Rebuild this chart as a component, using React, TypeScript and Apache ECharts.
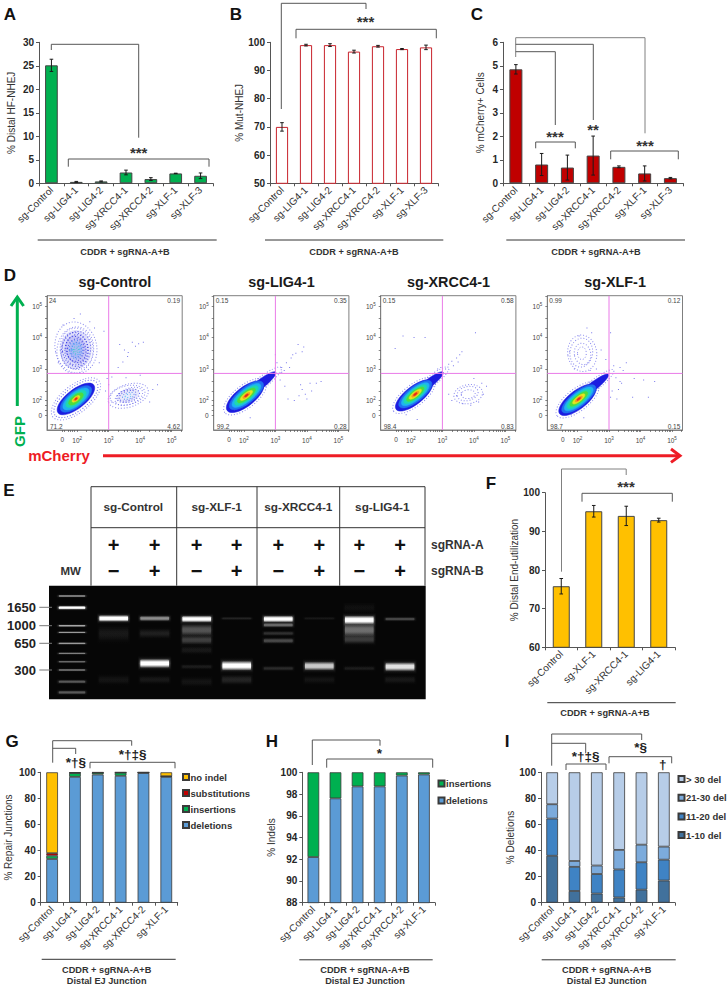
import React, { useEffect, useRef } from "react";
import * as echarts from "echarts";

const FONT = "'Liberation Sans', Arial, sans-serif";
const INK = "#262626";
const AXIS = "#555555";

// ---------- panels A, B, C, F ----------
const cats7 = ["sg-Control", "sg-LIG4-1", "sg-LIG4-2", "sg-XRCC4-1", "sg-XRCC4-2", "sg-XLF-1", "sg-XLF-3"];
const catsF = ["sg-Control", "sg-XLF-1", "sg-XRCC4-1", "sg-LIG4-1"];
const catsStack = ["sg-Control", "sg-LIG4-1", "sg-LIG4-2", "sg-XRCC4-1", "sg-XRCC4-2", "sg-XLF-1"];

const aValues = [25.1, 0.3, 0.4, 2.3, 0.9, 2.1, 1.6];
const aErrors = [1.3, 0.1, 0.1, 0.5, 0.3, 0.05, 0.6];
const bValues = [70, 99, 99, 96.7, 98.6, 97.6, 98.2];
const bErrors = [1.5, 0.3, 0.5, 0.5, 0.3, 0.2, 0.8];
const cValues = [4.85, 0.8, 0.67, 1.18, 0.7, 0.42, 0.22];
const cErrors = [0.2, 0.47, 0.53, 0.83, 0.04, 0.32, 0.03];
const fValues = [75.8, 95.2, 94, 92.9];
const fErrors = [2, 1.5, 2.5, 0.5];

// ---------- panels G, H, I ----------
const gDeletions = [33.5, 96.5, 98.3, 97.3, 99.5, 96.5];
const gInsertions = [2.5, 3, 1.4, 2.4, 0.3, 0.4];
const gSubstitutions = [2, 0.1, 0.1, 0.2, 0.1, 0.1];
const gNoIndel = [62, 0.4, 0.2, 0.1, 0.1, 3];
const hDeletions = [92.2, 97.6, 98.7, 98.7, 99.7, 99.8];
const hInsertions = [7.8, 2.4, 1.3, 1.3, 0.3, 0.2];
const iDel1to10 = [36, 9, 7, 4, 10, 17];
const iDel11to20 = [28.5, 18.5, 15, 21.5, 21, 16];
const iDel21to30 = [11, 4.5, 6.5, 15, 13.5, 10];
const iDelOver30 = [24.5, 68, 71.5, 59.5, 55.5, 57];

// ---------- panel D: density layers [x, y, rx, ry, angle, colour, kind] in decades ----------
// kind: 0 solid, 1 speckled ring, 2 translucent wash
const densityColors = ["#1c1ce0", "#1f6ff0", "#1fb4f0", "#20d8b0", "#4fdc3c", "#e6e620", "#f59a1c", "#e8261c", "#5a5ae8"];
const densityControl = [
  [1.96, 2.05, 0.93, 0.44, 38, 8, 1], [1.96, 2.05, 0.84, 0.37, 38, 0, 1], [1.96, 2.05, 0.72, 0.3, 38, 0, 0],
  [1.96, 2.05, 0.6, 0.255, 38, 1, 0], [1.96, 2.05, 0.5, 0.21, 38, 2, 0], [1.96, 2.05, 0.39, 0.165, 38, 3, 0],
  [1.96, 2.05, 0.28, 0.12, 38, 4, 0], [1.96, 2.05, 0.15, 0.065, 38, 5, 0], [1.96, 2.05, 0.09, 0.045, 38, 6, 0],
  [1.96, 2.05, 0.045, 0.025, 38, 7, 0],
  [1.96, 3.62, 0.5, 0.62, 0, 0, 2], [1.96, 3.62, 0.34, 0.46, 10, 0, 2], [1.96, 3.62, 0.2, 0.28, 0, 1, 2],
  [1.96, 3.68, 0.66, 0.82, 12, 8, 1], [1.94, 3.6, 0.58, 0.74, -8, 8, 1], [1.98, 3.64, 0.52, 0.66, 6, 8, 1],
  [1.96, 3.6, 0.46, 0.6, -14, 0, 1], [1.94, 3.62, 0.41, 0.54, 9, 0, 1], [1.97, 3.61, 0.36, 0.48, -5, 0, 1],
  [1.96, 3.62, 0.31, 0.42, 14, 0, 1], [1.95, 3.6, 0.26, 0.36, -10, 0, 1], [1.96, 3.62, 0.21, 0.3, 5, 1, 1],
  [1.97, 3.6, 0.16, 0.24, -6, 1, 1], [1.96, 3.62, 0.12, 0.18, 8, 2, 1], [1.96, 3.6, 0.08, 0.12, 0, 3, 1], [1.96, 3.6, 0.04, 0.07, 0, 3, 1],
  [3.62, 2.15, 0.36, 0.2, 18, 8, 2],
  [3.62, 2.15, 0.66, 0.36, 18, 8, 1], [3.6, 2.17, 0.56, 0.3, 12, 8, 1], [3.64, 2.13, 0.46, 0.25, 22, 8, 1],
  [3.62, 2.15, 0.37, 0.2, 16, 0, 1], [3.6, 2.15, 0.28, 0.15, 20, 0, 1], [3.62, 2.15, 0.19, 0.1, 18, 1, 1], [3.62, 2.15, 0.1, 0.05, 18, 2, 1],
];
const densityLig4 = [
  [2.04, 2.12, 0.82, 0.36, 38, 8, 1], [2.55, 2.55, 0.8, 0.18, 38, 8, 1],
  [2.04, 2.12, 0.72, 0.3, 38, 0, 0], [2.5, 2.5, 0.65, 0.14, 38, 0, 0],
  [2.08, 2.16, 0.66, 0.25, 38, 1, 0], [2.08, 2.16, 0.56, 0.2, 38, 2, 0], [2.08, 2.16, 0.46, 0.16, 38, 3, 0],
  [2.08, 2.16, 0.35, 0.12, 38, 4, 0], [2.08, 2.16, 0.24, 0.08, 38, 5, 0], [2.08, 2.16, 0.14, 0.05, 38, 6, 0], [2.08, 2.16, 0.07, 0.028, 38, 7, 0],
];
const densityXrcc4 = [
  [2.1, 2.16, 0.82, 0.34, 38, 8, 1], [2.6, 2.58, 0.76, 0.17, 38, 8, 1],
  [2.1, 2.16, 0.72, 0.28, 38, 0, 0], [2.55, 2.53, 0.6, 0.13, 38, 0, 0],
  [2.14, 2.2, 0.64, 0.24, 38, 1, 0], [2.14, 2.2, 0.54, 0.19, 38, 2, 0], [2.14, 2.2, 0.45, 0.155, 38, 3, 0],
  [2.14, 2.2, 0.34, 0.115, 38, 4, 0], [2.14, 2.2, 0.24, 0.08, 38, 5, 0], [2.14, 2.2, 0.14, 0.05, 38, 6, 0], [2.14, 2.2, 0.07, 0.028, 38, 7, 0],
  [3.82, 2.2, 0.46, 0.3, 10, 8, 1], [3.8, 2.22, 0.34, 0.22, 14, 8, 1], [3.82, 2.2, 0.22, 0.14, 6, 8, 1],
];
const densityXlf1 = [
  [2.0, 2.02, 0.82, 0.35, 38, 8, 1], [2.5, 2.46, 0.82, 0.17, 38, 8, 1],
  [2.0, 2.02, 0.72, 0.29, 38, 0, 0], [2.46, 2.42, 0.66, 0.13, 38, 0, 0],
  [2.04, 2.05, 0.66, 0.24, 38, 1, 0], [2.04, 2.05, 0.56, 0.195, 38, 2, 0], [2.04, 2.05, 0.46, 0.155, 38, 3, 0],
  [2.04, 2.05, 0.35, 0.115, 38, 4, 0], [2.04, 2.05, 0.24, 0.08, 38, 5, 0], [2.04, 2.05, 0.14, 0.05, 38, 6, 0], [2.04, 2.05, 0.07, 0.028, 38, 7, 0],
  [2.15, 3.5, 0.46, 0.58, 8, 8, 1], [2.12, 3.52, 0.36, 0.46, -8, 8, 1], [2.16, 3.48, 0.26, 0.34, 10, 8, 1], [2.14, 3.5, 0.14, 0.2, 0, 8, 1],
];
// sparse single events
const dotsControl = [
  [3.35, 3.78], [3.5, 3.6], [3.62, 3.52], [3.75, 3.85], [3.85, 3.72], [3.95, 3.8], [4.1, 3.85], [3.45, 3.22], [3.3, 3.05], [3.6, 3.4],
  [1.55, 4.4], [1.9, 4.6], [2.1, 4.75], [2.4, 4.5], [2.55, 4.3], [2.85, 4.2], [2.7, 3.2], [1.4, 3.2], [2.95, 2.7], [3.0, 2.5],
  [2.9, 2.3], [3.1, 1.95], [4.4, 2.35], [4.55, 2.5], [4.3, 1.95], [3.1, 2.75], [4.0, 2.8], [3.55, 2.72],
];
const dotsLig4 = [
  [3.2, 3.05], [3.35, 3.2], [3.5, 3.35], [3.65, 3.5], [3.85, 3.55], [3.9, 3.7], [3.72, 3.78], [3.55, 3.45], [3.05, 3.2], [3.0, 3.45],
  [3.28, 2.95], [3.45, 3.05], [3.15, 2.65], [3.3, 2.45], [3.8, 2.5], [3.85, 2.35], [3.95, 2.2], [4.0, 2.05], [4.1, 2.55], [4.3, 2.55],
  [4.45, 2.6], [3.6, 2.0], [3.75, 2.15], [4.15, 2.3], [3.2, 2.9], [3.4, 2.05], [2.2, 1.45], [1.7, 1.7],
];
const dotsXrcc4 = [
  [3.1, 3.0], [3.2, 3.15], [3.3, 3.25], [3.45, 3.35], [3.55, 3.45], [3.62, 3.55], [3.5, 3.22], [3.35, 3.1], [2.95, 3.05], [2.85, 3.0],
  [4.05, 4.15], [1.75, 4.05], [2.1, 4.0], [2.45, 4.0], [1.5, 3.65], [3.2, 2.2], [3.3, 2.0], [3.45, 2.15], [3.65, 1.9], [4.4, 2.45], [4.25, 2.55],
  [4.0, 2.7], [4.15, 1.95], [3.9, 1.85], [3.6, 2.25], [4.3, 2.2], [2.2, 1.4], [1.85, 1.55],
];
const dotsXlf1 = [
  [3.05, 4.15], [3.55, 3.2], [3.35, 3.05], [3.15, 3.1], [3.45, 2.95], [3.22, 2.72], [3.3, 2.35], [3.1, 2.3], [3.25, 2.05], [3.05, 2.1],
  [3.4, 2.55], [3.35, 2.6], [3.8, 2.7], [4.1, 2.65], [4.45, 2.6], [3.75, 2.1], [4.25, 2.1], [2.45, 4.15], [2.3, 4.3], [2.05, 4.05],
  [1.75, 3.55], [2.75, 3.6], [2.9, 3.3], [2.6, 3.0], [2.4, 2.95], [1.9, 3.0], [2.2, 1.45], [1.8, 1.55],
];
const flowTitles = ["sg-Control", "sg-LIG4-1", "sg-XRCC4-1", "sg-XLF-1"];
const flowCorners = [
  ["24", "0.19", "71.2", "4.62"],
  ["0.15", "0.35", "99.2", "0.28"],
  ["0.15", "0.58", "98.4", "0.83"],
  ["0.99", "0.12", "98.7", "0.15"],
];
const flowMajor = [1.53, 2, 3, 4, 5];
const flowGate = [[3, 2.86]];
const flowXTicks = [1.53, 1.6, 1.7, 1.78, 1.85, 1.9, 2, 2.3, 2.48, 2.6, 2.7, 2.78, 2.85, 2.9, 2.95, 3, 3.3, 3.48, 3.6, 3.7, 3.78, 3.85, 3.9, 3.95, 4, 4.3, 4.48, 4.6, 4.7, 4.78, 4.85, 4.9, 4.95, 5, 5.3];
const flowYTicks = [1.53, 1.7, 1.85, 2, 2.3, 2.6, 3, 3.3, 3.6, 4, 4.3, 4.6, 5, 5.3];

// ---------- panel E: gel bands [lane, y, half height, brightness] ----------
const gelLanes = [23, 64.7, 105.7, 147.7, 187.7, 229.3, 270.3, 310.3, 351];
const gelLadder = [
  [0, 10.3, 1.6, 0.55], [0, 22, 2.6, 1], [0, 40, 1.6, 0.65], [0, 46.7, 1.4, 0.6], [0, 57.7, 1.6, 0.6],
  [0, 67.7, 1.5, 0.5], [0, 76, 1.6, 0.42], [0, 84.3, 1.7, 0.45], [0, 96, 2.4, 0.36], [0, 106.7, 2.6, 0.36],
];
const gelSamples = [
  [1, 32.7, 4.5, 1], [1, 48, 10, 0.1], [1, 94, 6, 0.08],
  [2, 32.7, 3.5, 0.55], [2, 47.7, 6, 0.13], [2, 77.7, 6, 1], [2, 94, 5, 0.1],
  [3, 33.3, 4.5, 1], [3, 44.3, 8, 0.34], [3, 54.3, 6, 0.26], [3, 64.3, 5, 0.1], [3, 81, 3, 0.12], [3, 96, 6, 0.08],
  [4, 32.7, 2, 0.15], [4, 80, 6.5, 1], [4, 94, 6, 0.15],
  [5, 33.3, 4.5, 1], [5, 39.3, 3, 0.42], [5, 47.7, 3, 0.2], [5, 55, 3.5, 0.3], [5, 82.7, 3, 0.18],
  [6, 32.7, 2, 0.1], [6, 80.3, 6, 0.78], [6, 94, 5, 0.08],
  [7, 34.3, 6, 1], [7, 44.3, 9, 0.44], [7, 53.7, 6, 0.24], [7, 82.7, 3, 0.12], [7, 22, 6, 0.06],
  [8, 33.3, 2.5, 0.3], [8, 81, 6, 0.88], [8, 94, 5, 0.1],
];
const gelPlus = ["+", "+", "+", "+", "+", "+", "+", "+"];
const gelB = ["−", "+", "−", "+", "−", "+", "−", "+"];
const gelPlusX = [113.7, 154.7, 196.7, 236.7, 278.3, 319.3, 359.3, 400];
const gelHeads = [["sg-Control", 133.3], ["sg-XLF-1", 216.7], ["sg-XRCC4-1", 298.3], ["sg-LIG4-1", 382.3]] as const;
const gelMW = [["1650", 607.3], ["1000", 625.7], ["650", 643.3], ["300", 670]] as const;

// ---------- helpers ----------
const grids: any[] = [];
const xAxes: any[] = [];
const yAxes: any[] = [];
const series: any[] = [];
const legends: any[] = [];
const graphics: any[] = [];

function text(t: string, x: number, y: number, size: number, opts: any = {}) {
  graphics.push({
    type: "text",
    x,
    y,
    rotation: opts.rotation || 0,
    silent: true,
    style: {
      text: t,
      fontFamily: FONT,
      fontSize: size,
      fontWeight: opts.weight || "normal",
      fill: opts.fill || INK,
      textAlign: opts.align || "center",
      textVerticalAlign: "middle",
    },
  });
}
function line(pts: number[][], stroke = "#555555", lineWidth = 1) {
  graphics.push({
    type: "polyline",
    silent: true,
    shape: { points: pts },
    style: { stroke, lineWidth, fill: "none", lineJoin: "miter" },
  });
}
function addAxes(left: number, right: number, top: number, bottom: number, cats: string[], min: number, max: number, interval: number, name: string, nameGap: number) {
  const idx = grids.length;
  grids.push({ left, top, width: right - left, height: bottom - top, containLabel: false });
  xAxes.push({
    gridIndex: idx,
    type: "category",
    data: cats,
    axisLine: { lineStyle: { color: AXIS, width: 1 } },
    axisTick: { show: true, length: 3, lineStyle: { color: AXIS } },
    axisLabel: { interval: 0, rotate: 45, fontSize: 10, fontFamily: FONT, color: "#333333", margin: 5 },
  });
  yAxes.push({
    gridIndex: idx,
    type: "value",
    min,
    max,
    interval,
    name,
    nameLocation: "middle",
    nameRotate: 90,
    nameGap,
    nameTextStyle: { fontSize: 10, fontFamily: FONT, color: "#333333" },
    splitLine: { show: false },
    axisLine: { show: true, lineStyle: { color: AXIS, width: 1 } },
    axisTick: { show: true, length: 3, lineStyle: { color: AXIS } },
    axisLabel: { fontSize: 10, fontWeight: "bold", fontFamily: FONT, color: INK, margin: 5 },
  });
  return idx;
}
function errorBars(idx: number, values: number[], errors: number[]) {
  series.push({
    type: "custom",
    xAxisIndex: idx,
    yAxisIndex: idx,
    silent: true,
    z: 5,
    clip: false,
    data: values.map((v, i) => [i, v - errors[i], v + errors[i]]),
    encode: { x: 0, y: [1, 2] },
    renderItem: (_: any, api: any) => {
      const lo = api.coord([api.value(0), api.value(1)]);
      const hi = api.coord([api.value(0), api.value(2)]);
      const s = { stroke: "#1a1a1a", lineWidth: 1 };
      return {
        type: "group",
        children: [
          { type: "line", shape: { x1: lo[0], y1: lo[1], x2: hi[0], y2: hi[1] }, style: s },
          { type: "line", shape: { x1: lo[0] - 1.8, y1: lo[1], x2: lo[0] + 1.8, y2: lo[1] }, style: s },
          { type: "line", shape: { x1: hi[0] - 1.8, y1: hi[1], x2: hi[0] + 1.8, y2: hi[1] }, style: s },
        ],
      };
    },
  });
}
function barPanel(left: number, right: number, top: number, bottom: number, cats: string[], vals: number[], errs: number[], min: number, max: number, interval: number, name: string, nameGap: number, width: number, fill: string, border: string) {
  const idx = addAxes(left, right, top, bottom, cats, min, max, interval, name, nameGap);
  series.push({
    type: "bar",
    xAxisIndex: idx,
    yAxisIndex: idx,
    barWidth: width,
    silent: true,
    data: vals,
    itemStyle: { color: fill, borderColor: border, borderWidth: 1 },
  });
  errorBars(idx, vals, errs);
}
function stackPanel(left: number, right: number, cats: string[], min: number, interval: number, name: string, nameGap: number, parts: [string, number[], string][], legend: { left: number; top: number; gap: number }, border = "#3a3a3a") {
  const idx = addAxes(left, right, 772.3, 902.7, cats, min, 100, interval, name, nameGap);
  parts.forEach(([n, vals, color]) => {
    series.push({
      type: "bar",
      name: n,
      stack: "s" + idx,
      xAxisIndex: idx,
      yAxisIndex: idx,
      barWidth: 11.7,
      silent: true,
      data: vals,
      itemStyle: { color, borderColor: border, borderWidth: 0.8 },
    });
  });
  legends.push({
    orient: "vertical",
    left: legend.left,
    top: legend.top,
    itemWidth: 6,
    itemHeight: 6,
    itemGap: legend.gap,
    padding: 0,
    selectedMode: false,
    data: parts.map(([n]) => n).reverse().map((n) => ({ name: n, icon: "rect" })),
    textStyle: { fontFamily: FONT, fontSize: 9.5, fontWeight: "bold", color: "#333333", padding: [0, 0, 0, -3.5] },
  });
}
function flowPlot(index: number, frameLeft: number, density: number[][], dots: number[][]) {
  const idx = grids.length;
  const width = 135.2;
  grids.push({ left: frameLeft, top: 295.7, width, height: 134.3, show: true, backgroundColor: "#ffffff", borderColor: "#7f7f7f", borderWidth: 1 });
  const label = (v: number) => (v < 1.8 ? "{a|0}" : "{a|10}{b|" + Math.round(v) + "}");
  const rich = { a: { fontSize: 6.5, fontFamily: FONT, color: "#444" }, b: { fontSize: 4.5, fontFamily: FONT, color: "#444", padding: [0, 0, 4, 0] } };
  xAxes.push({
    gridIndex: idx,
    type: "value",
    min: 3 - 61.7 / 31.5,
    max: 3 - 61.7 / 31.5 + width / 31.5,
    splitLine: { show: false },
    axisLine: { show: true, lineStyle: { color: "#7f7f7f" } },
    axisTick: { show: true, length: 2, customValues: flowXTicks, lineStyle: { color: "#555", width: 0.7 } },
    axisLabel: { customValues: flowMajor, formatter: label, rich, margin: 6, hideOverlap: false },
  });
  yAxes.push({
    gridIndex: idx,
    type: "value",
    min: 3 - 61 / 31.5,
    max: 3 + 73.3 / 31.5,
    splitLine: { show: false },
    axisLine: { show: true, lineStyle: { color: "#7f7f7f" } },
    axisTick: { show: true, length: 2, customValues: flowYTicks, lineStyle: { color: "#555", width: 0.7 } },
    axisLabel: { customValues: flowMajor, formatter: label, rich, margin: 5, hideOverlap: false },
  });
  series.push({
    type: "custom",
    xAxisIndex: idx,
    yAxisIndex: idx,
    silent: true,
    clip: true,
    data: density,
    encode: { x: 0, y: 1 },
    renderItem: (_: any, api: any) => {
      const c = api.coord([api.value(0), api.value(1)]);
      const size = api.size([api.value(2), api.value(3)]);
      const kind = api.value(6);
      const color = densityColors[api.value(5)];
      const style =
        kind === 1
          ? { fill: "none", stroke: color, lineWidth: 1, lineDash: [1, 1.9], opacity: 0.7 }
          : kind === 2
          ? { fill: color, opacity: 0.14 }
          : { fill: color, stroke: color, lineWidth: 0.5 };
      return {
        type: "ellipse",
        x: c[0],
        y: c[1],
        rotation: (api.value(4) * Math.PI) / 180,
        shape: { cx: 0, cy: 0, rx: size[0], ry: size[1] },
        style,
      };
    },
  });
  series.push({
    type: "scatter",
    xAxisIndex: idx,
    yAxisIndex: idx,
    silent: true,
    symbol: "rect",
    symbolSize: 1,
    data: dots,
    itemStyle: { color: "#4a4ae6", opacity: 0.75 },
  });
  series.push({
    type: "custom",
    xAxisIndex: idx,
    yAxisIndex: idx,
    silent: true,
    z: 6,
    clip: true,
    data: flowGate,
    encode: { x: 0, y: 1 },
    renderItem: (params: any, api: any) => {
      const c = api.coord([api.value(0), api.value(1)]);
      const cs = params.coordSys;
      const s = { stroke: "#ea7be8", lineWidth: 1 };
      return {
        type: "group",
        children: [
          { type: "line", shape: { x1: c[0], y1: cs.y, x2: c[0], y2: cs.y + cs.height }, style: s },
          { type: "line", shape: { x1: cs.x, y1: c[1], x2: cs.x + cs.width, y2: c[1] }, style: s },
        ],
      };
    },
  });
  const [tl, tr, bl, br] = flowCorners[index];
  text(flowTitles[index], frameLeft + 67.8, 282, 14.4, { weight: "bold", fill: "#1a1a1a" });
  text(tl, frameLeft + 2, 300.5, 6.5, { align: "left", fill: "#444" });
  text(tr, frameLeft + 133, 300.5, 6.5, { align: "right", fill: "#444" });
  text(bl, frameLeft + 3, 426.5, 6.5, { align: "left", fill: "#444" });
  text(br, frameLeft + 133, 426.5, 6.5, { align: "right", fill: "#444" });
}
function gelPanel() {
  const idx = grids.length;
  grids.push({ left: 49, top: 585.7, width: 376.7, height: 113.6, show: true, backgroundColor: "#060606", borderWidth: 0 });
  xAxes.push({ gridIndex: idx, type: "value", min: 0, max: 376.7, show: false });
  yAxes.push({ gridIndex: idx, type: "value", min: 0, max: 113.6, inverse: true, show: false });
  const render = (_: any, api: any) => {
    const lane = gelLanes[api.value(0)];
    const ladder = api.value(0) === 0;
    const hw = ladder ? 15.3 : 16.5;
    const c = api.coord([lane, api.value(1)]);
    const hh = api.value(2);
    const b = api.value(3);
    const fill = (a: number, flat: number) =>
      new echarts.graphic.LinearGradient(0, 0, 0, 1, [
        { offset: 0, color: `rgba(255,255,255,0)` },
        { offset: 0.5 - flat, color: `rgba(255,255,255,${a})` },
        { offset: 0.5 + flat, color: `rgba(255,255,255,${a})` },
        { offset: 1, color: `rgba(255,255,255,0)` },
      ]);
    const rect = (w: number, a: number, hf: number, flat: number) => ({
      type: "rect",
      shape: { x: c[0] - w, y: c[1] - hh * hf, width: 2 * w, height: 2 * hh * hf, r: 1.5 },
      style: { fill: fill(a, flat) },
    });
    return {
      type: "group",
      children: [
        rect(hw, 0.1 * b, 1.3, 0),
        rect(hw - 0.8, 0.15 * b, 1.05, 0),
        rect(hw - 1.6, 0.2 * b, 0.9, 0.05),
        rect(hw - 2.2, Math.pow(b, 1.5), 0.75, 0.15),
      ],
    };
  };
  series.push({
    type: "custom",
    xAxisIndex: idx,
    yAxisIndex: idx,
    silent: true,
    clip: true,
    data: [...gelLadder, ...gelSamples],
    encode: { x: 0, y: 1 },
    renderItem: render,
  });
}

function build() {
  // A, B, C
  barPanel(39, 213, 42.3, 183.3, cats7, aValues, aErrors, 0, 30, 5, "% Distal HF-NHEJ", 23, 12.7, "#00b050", "#444444");
  barPanel(270, 438, 42.3, 183.3, cats7, bValues, bErrors, 50, 100, 10, "% Mut-NHEJ", 26, 12.2, "#ffffff", "#c8232c");
  barPanel(503, 683.3, 42.3, 183.3, cats7, cValues, cErrors, 0, 6, 1, "% mCherry+ Cells", 18, 13, "#c00000", "#444444");
  // F
  barPanel(545, 675, 492.7, 647.3, catsF, fValues, fErrors, 60, 100, 10, "% Distal End-utilization", 26, 17, "#ffc000", "#444444");
  // G, H, I
  stackPanel(40.7, 177.7, catsStack, 0, 20, "% Repair Junctions", 27, [
    ["deletions", gDeletions, "#5b9bd5"],
    ["insertions", gInsertions, "#00b050"],
    ["substitutions", gSubstitutions, "#c00000"],
    ["no indel", gNoIndel, "#ffc000"],
  ], { left: 182, top: 772, gap: 6 });
  stackPanel(302.3, 435, catsStack, 88, 2, "% Indels", 26, [
    ["deletions", hDeletions, "#5b9bd5"],
    ["insertions", hInsertions, "#00b050"],
  ], { left: 437.5, top: 778.5, gap: 7 });
  stackPanel(541, 675, catsStack, 0, 20, "% Deletions", 25, [
    ["1-10 del", iDel1to10, "#41719c"],
    ["11-20 del", iDel11to20, "#3f83c4"],
    ["21-30 del", iDel21to30, "#7cabdc"],
    ["> 30 del", iDelOver30, "#b7cde8"],
  ], { left: 677.5, top: 774, gap: 8.7 });
  // D
  flowPlot(0, 47, densityControl, dotsControl);
  flowPlot(1, 213.7, densityLig4, dotsLig4);
  flowPlot(2, 380.7, densityXrcc4, dotsXrcc4);
  flowPlot(3, 547.3, densityXlf1, dotsXlf1);
  // E
  gelPanel();

  // panel letters
  ([["A", 10, 14], ["B", 236, 14], ["C", 477, 14], ["D", 10, 275], ["E", 9, 490], ["F", 491, 483], ["G", 12, 741], ["H", 272, 741], ["I", 507, 741]] as const).forEach(
    ([t, x, y]) => text(t, x, y, 17, { weight: "bold", fill: "#111111" })
  );

  // CDDR rulers
  const ruler = (x1: number, x2: number, y: number, cx: number, tY: number) => {
    line([[x1, y], [x2, y]], "#333333");
    text("CDDR + sgRNA-A+B", cx, tY, 9.2, { weight: "bold", fill: "#333" });
  };
  ruler(37.7, 216.7, 240, 125, 251.5);
  ruler(265, 443.3, 240, 354, 251.5);
  ruler(506.3, 685, 240, 596, 251.5);
  ruler(547.3, 675.7, 702.7, 605, 713.3);
  ruler(41.7, 175.7, 959.3, 106.7, 970.3);
  ruler(299.3, 432.7, 959.8, 365, 970.3);
  ruler(541.7, 675.7, 959.8, 606.7, 970.3);
  text("Distal EJ Junction", 106.7, 981, 9.2, { weight: "bold", fill: "#333" });
  text("Distal EJ Junction", 365, 981, 9.2, { weight: "bold", fill: "#333" });
  text("Distal EJ Junction", 606.7, 981, 9.2, { weight: "bold", fill: "#333" });

  // brackets and significance marks
  const star = (t: string, x: number, y: number, size = 15) => text(t, x, y + 2.5, size, { weight: "bold", fill: "#333" });
  const mark = (t: string, x: number, y: number) => text(t, x, y, 13.5, { weight: "bold", fill: "#222" });
  line([[51.3, 50], [51.3, 44.3], [138.7, 44.3], [138.7, 137.7]]);
  line([[68.3, 166.7], [68.3, 159], [209, 159], [209, 166.7]]);
  star("***", 138.7, 150);
  line([[281.3, 109], [281.3, 3.3], [366, 3.3], [366, 9]]);
  line([[296, 38.3], [296, 29.3], [436.3, 29.3], [436.3, 38.3]]);
  star("***", 365.5, 18.5);
  line([[515.7, 57], [515.7, 37.7], [645, 37.7], [645, 133.3]], "#808080");
  line([[515.7, 44.3], [593.3, 44.3], [593.3, 120]]);
  line([[515.7, 51.7], [555.3, 51.7], [555.3, 125]]);
  line([[535.7, 148.3], [535.7, 142], [575.3, 142], [575.3, 148.3]]);
  line([[610.7, 159.3], [610.7, 151], [678.3, 151], [678.3, 159.3]]);
  star("***", 555, 134);
  star("**", 593, 127);
  star("***", 645, 142.7);
  line([[561.5, 571.7], [561.5, 469], [626.2, 469], [626.2, 475]], "#808080");
  line([[582, 501.7], [582, 493.3], [672.3, 493.3], [672.3, 501.7]]);
  star("***", 626, 484);
  line([[52.7, 762.7], [52.7, 740.7], [131.7, 740.7], [131.7, 745.7]]);
  line([[52.7, 748.3], [75.7, 748.3], [75.7, 754]]);
  line([[90, 768.3], [90, 762.3], [175, 762.3], [175, 768.3]]);
  mark("*†§", 76, 762);
  mark("*†‡§", 132.7, 754);
  line([[312.3, 765], [312.3, 740], [380, 740], [380, 745.7]]);
  line([[326.7, 767.7], [326.7, 759], [432.7, 759], [432.7, 767.7]]);
  mark("*", 379.3, 753.5);
  line([[551.7, 765.7], [551.7, 734], [641.7, 734], [641.7, 740]]);
  line([[551.7, 743.3], [585.7, 743.3], [585.7, 753.3]]);
  line([[566, 770], [566, 764], [606, 764], [606, 770]]);
  line([[609, 763.3], [609, 756.7], [671.7, 756.7], [671.7, 763.3]]);
  mark("*†‡§", 585.7, 756);
  mark("*§", 640.7, 747.5);
  mark("†", 662.7, 764.5);

  // flow axes arrows
  const green = "#00b050";
  const red = "#ee1c25";
  line([[17.3, 406], [17.3, 297]], green, 3);
  line([[11, 306], [17.3, 297], [23.6, 306]], green, 3);
  text("GFP", 19, 431.5, 15, { weight: "bold", fill: green, rotation: Math.PI / 2 });
  text("mCherry", 59, 455, 15, { weight: "bold", fill: red });
  line([[103, 455.7], [679, 455.7]], red, 3);
  line([[671, 449], [680, 455.7], [671, 462.4]], red, 3);

  // E: table over the gel
  line([[91, 585.7], [91, 486.7], [425, 486.7], [425, 585.7]], "#333333");
  line([[91, 527.7], [425, 527.7]], "#333333");
  [176.7, 257, 339.7].forEach((x) => line([[x, 486.7], [x, 585.7]], "#333333"));
  gelHeads.forEach(([t, x]) => text(t, x, 506.7, 11.8, { weight: "bold", fill: "#333" }));
  gelPlusX.forEach((x, i) => {
    text(gelPlus[i], x, 545, 20, { weight: "bold", fill: "#111" });
    text(gelB[i], x, 571, 20, { weight: "bold", fill: "#111" });
  });
  text("sgRNA-A", 431, 545, 12, { weight: "bold", fill: "#333", align: "left" });
  text("sgRNA-B", 431, 571, 12, { weight: "bold", fill: "#333", align: "left" });
  text("MW", 70.7, 571, 11.5, { weight: "bold", fill: "#333" });
  gelMW.forEach(([t, y]) => {
    text(t, 36, y, 13, { weight: "bold", fill: "#222", align: "right" });
    line([[39.3, y], [52, y]], "#777777");
  });
}

build();

export default function App() {
  const ref = useRef<HTMLDivElement>(null);
  useEffect(() => {
    if (!ref.current) return;
    const chart = echarts.init(ref.current, undefined, { renderer: "svg" });
    chart.setOption({
      animation: false,
      backgroundColor: "#ffffff",
      textStyle: { fontFamily: FONT },
      grid: grids,
      xAxis: xAxes,
      yAxis: yAxes,
      legend: legends,
      series,
      graphic: { elements: graphics },
    });
    return () => chart.dispose();
  }, []);
  return <div ref={ref} style={{ position: "absolute", left: 0, top: 0, width: 728, height: 988 }} />;
}
